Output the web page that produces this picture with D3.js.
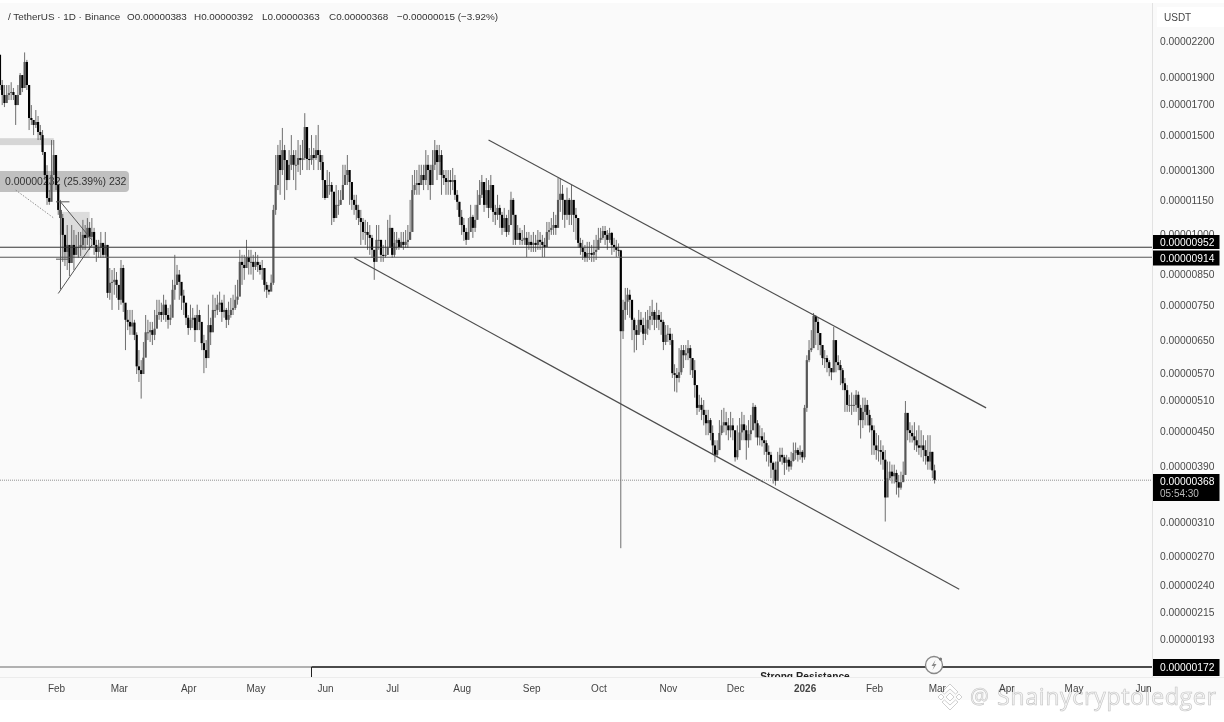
<!DOCTYPE html>
<html>
<head>
<meta charset="utf-8">
<script src="https://cdn.jsdelivr.net/npm/d3@7"></script>
<style>
  html, body { margin: 0; padding: 0; background: #fff; overflow: hidden; }
  svg { display: block; font-family: "Liberation Sans", sans-serif; }
  .soft { filter: blur(0.45px); }
</style>
</head>
<body>
<svg id="chart" width="1224" height="722"></svg>
<script>
// all prices are in units of 0.00000001 USDT, one row per month
const firstDay = "2025-01-07";
const firstOpen = 2080;

const closes = [
  1839,1766,1709,1766,1780,1787,1766,1695,1766,1915,1817,2020,1839,1608,1595,1563,1582,1519,1500,1400,1275,1161,1143,1275,1383,
  1224,1106,1070,999,932,959,891,959,921,951,951,959,999,987,1028,991,1011,959,932,948,967,921,959,789,822,825,832,815,
  767,873,758,707,701,688,699,665,585,576,567,606,672,672,678,665,682,721,730,721,752,721,707,713,799,815,850,825,780,758,713,
  684,707,713,678,721,701,643,625,605,692,672,736,736,752,758,730,736,707,721,736,742,767,777,895,884,873,913,895,895,877,
  895,884,866,873,815,799,793,822,1106,1224,1383,1301,1411,1355,1249,1329,1383,1329,1329,1366,1355,1366,1550,1361,1355,1383,1366,1411,1383,1344,1249,
  1161,1224,1224,1191,1070,1129,1129,1152,1224,1275,1301,1239,1152,1129,1106,1070,1053,1011,1011,999,987,940,895,979,979,921,917,921,948,1028,
  921,967,979,951,971,959,971,979,1011,1199,1224,1234,1224,1275,1249,1329,1301,1224,1329,1411,1344,1383,1275,1259,1239,1249,1239,1249,1176,1143,1075,
  1040,1011,979,1011,1075,1028,1062,1129,1176,1239,1129,1199,1115,1224,1097,1084,1115,1084,1028,1070,1011,1040,1152,1084,979,1007,979,979,987,959,971,
  959,967,959,979,971,959,951,1011,1019,1028,1040,1028,1152,1181,1152,1084,1152,1084,1152,1084,1070,967,948,932,910,928,928,921,932,940,
  979,987,1015,999,979,1007,959,951,940,938,675,736,761,783,767,707,678,665,707,692,668,682,707,718,730,707,721,707,701,646,665,
  668,651,569,565,558,571,625,612,617,630,605,576,542,494,500,490,480,464,470,446,424,408,416,446,460,466,460,451,460,451,
  404,416,447,462,451,433,444,451,496,464,438,440,433,428,413,408,395,384,367,397,408,404,395,400,389,398,411,416,408,413,404,
  494,600,625,630,718,701,670,638,605,605,595,581,571,651,595,588,576,546,531,500,500,500,500,521,494,470,486,500,480,460,451,
  424,416,416,413,400,343,371,381,374,379,365,357,365,376,484,451,446,440,433,424,420,424,416,406,397,413,383,368
];

const highs = [
  2080,1877,1839,1839,1839,1860,1817,1752,1839,1931,1915,2100,2037,1839,1695,1595,1661,1621,1563,1531,1400,1327,1199,1470,1470,
  1383,1219,1152,1088,999,1040,948,1040,1019,999,1011,1011,1062,1040,1070,1053,1070,1028,979,979,1011,959,1011,959,873,866,873,859,
  799,902,884,736,736,736,736,707,672,625,600,646,721,707,701,701,736,767,767,758,783,767,742,752,832,921,884,866,815,799,752,
  721,752,742,721,752,736,692,665,651,752,713,783,773,783,793,767,783,742,761,773,783,815,832,940,921,921,979,940,940,921,
  932,921,895,902,859,825,815,850,1129,1383,1441,1470,1544,1441,1327,1411,1500,1411,1411,1470,1441,1470,1640,1531,1423,1500,1423,1500,1563,1411,1383,
  1224,1301,1291,1239,1141,1224,1199,1199,1329,1329,1383,1301,1224,1176,1176,1129,1106,1070,1062,1053,1040,999,940,1040,1040,979,959,979,1062,1084,
  979,1011,1011,987,1011,1011,1019,1040,1152,1275,1301,1301,1329,1329,1329,1411,1383,1329,1411,1470,1441,1441,1411,1301,1301,1301,1301,1312,1275,1199,1143,
  1106,1070,1028,1070,1129,1084,1129,1199,1249,1275,1224,1259,1249,1275,1176,1129,1176,1129,1097,1115,1084,1106,1191,1161,1040,1040,1028,1019,1040,1011,1011,
  999,1011,999,1019,1011,999,987,1053,1053,1070,1097,1084,1259,1259,1224,1152,1211,1161,1224,1129,1115,1028,987,979,959,971,971,959,979,999,
  1028,1028,1036,1036,1019,1028,1011,987,979,965,940,767,805,805,799,752,713,692,736,730,713,730,736,748,767,736,758,736,730,707,692,
  692,684,668,590,581,630,638,638,638,651,638,605,600,542,521,515,510,490,490,474,460,433,433,470,490,494,486,474,486,474,
  433,460,474,486,480,460,470,480,504,500,470,460,455,447,433,424,413,397,397,413,420,420,408,408,404,413,429,429,420,424,416,
  500,612,651,678,727,721,713,665,638,625,612,600,581,687,625,612,600,581,558,542,521,526,521,531,528,500,515,515,510,490,474,
  460,446,442,433,424,416,397,397,392,392,384,376,381,397,508,480,466,460,466,451,460,451,442,433,442,442,413,392
];

const lows = [
  1802,1695,1681,1730,1730,1730,1730,1563,1695,1802,1787,1839,1802,1531,1563,1500,1544,1470,1470,1383,1249,1129,1129,1249,1275,
  1199,1084,999,895,880,866,845,895,866,921,910,917,940,940,959,940,948,921,895,910,910,910,910,773,767,736,783,773,
  736,752,730,625,678,665,665,651,567,549,513,590,651,651,646,638,651,692,707,701,707,701,682,692,730,767,815,767,736,721,692,
  665,678,684,646,692,678,625,569,581,651,638,713,713,721,730,701,713,684,692,713,721,736,752,799,815,832,873,850,850,832,
  866,859,850,832,793,773,783,799,815,1084,1199,1176,1275,1152,1199,1275,1301,1249,1199,1291,1275,1301,1355,1301,1301,1329,1301,1355,1301,1301,1161,
  1152,1176,1176,1040,1053,1084,1084,1129,1176,1224,1224,1129,1106,1084,1062,1040,959,979,959,940,921,910,832,940,940,895,895,910,921,979,
  910,913,940,940,948,940,948,948,979,1019,1176,1176,1176,1224,1199,1224,1199,1152,1224,1301,1249,1275,1176,1224,1176,1176,1176,1199,1152,1106,1040,
  999,975,959,979,1028,987,1011,1084,1129,1161,1097,1115,1070,1106,1053,1040,1062,1028,999,1011,991,999,1053,959,959,979,959,959,959,913,940,
  932,932,932,940,940,913,913,959,979,999,999,999,1097,1097,1062,1028,1062,1040,1040,1011,979,948,921,902,895,895,902,895,895,902,
  959,967,979,959,940,967,921,932,913,915,279,654,707,721,713,651,619,625,665,672,638,651,665,678,692,678,684,678,665,625,638,
  646,638,558,528,526,548,565,581,600,600,565,558,515,480,486,470,460,442,442,433,408,396,404,424,442,447,442,433,438,433,
  397,400,433,433,433,400,420,433,451,438,424,424,422,408,397,389,371,363,360,371,397,392,376,384,381,384,397,400,397,400,395,
  400,486,595,620,651,638,625,612,588,581,571,562,553,571,571,576,542,531,486,486,486,480,486,486,460,436,455,460,460,447,408,
  408,400,397,392,384,311,354,368,363,363,347,343,354,368,376,433,429,429,416,413,408,404,397,392,384,384,371,363
];

const priceTicks = [2200,1900,1700,1500,1300,1150,1000,850,750,650,570,510,450,390,310,270,240,215,193];
const monthTicks = ["2025-02-01","2025-03-01","2025-04-01","2025-05-01","2025-06-01","2025-07-01","2025-08-01","2025-09-01","2025-10-01","2025-11-01","2025-12-01","2026-01-01","2026-02-01","2026-03-01","2026-04-01","2026-05-01","2026-06-01"];
const monthLabels = ["Feb","Mar","Apr","May","Jun","Jul","Aug","Sep","Oct","Nov","Dec","2026","Feb","Mar","Apr","May","Jun"];

const headerTexts = ["/ TetherUS · 1D · Binance","O0.00000383","H0.00000392","L0.00000363","C0.00000368","−0.00000015 (−3.92%)"];
const headerStarts = [8,127,194,262,329,397];

// hand drawn lines on the chart: [date, price, date, price]
const channelLines = [
  ["2025-08-13",1470,"2026-03-23",494],
  ["2025-06-14",910,"2026-03-11",236]
];
const triangleLines = [
  ["2025-02-03",1143,"2025-02-17",979],
  ["2025-02-02",787,"2025-02-17",959],
  ["2025-02-03",1143,"2025-02-03",800],
  ["2025-02-01",1143,"2025-02-07",1143],
  ["2025-02-01",905,"2025-02-07",905]
];
const dottedLine = [["2025-01-14",1199,"2025-01-31",1070]];
const levelPrices = [952,914];
const lastPrice = 368;
const resistancePrice = 172;
const resistanceStart = "2025-05-26";

const width = 1224, height = 722;
const plotRight = 1152, plotBottom = 677;
const day = 86400000;
const parse = s => new Date(s + "T00:00:00Z");
const fmt = v => (v / 1e8).toFixed(8);

const x = d3.scaleUtc().domain([parse("2025-02-01"), parse("2026-06-01")]).range([56, 1143]);
const y = d3.scaleLog().domain([172, 2200]).range([667, 41]);

const svg = d3.select("#chart");

svg.append("rect").attr("width", width).attr("height", height).attr("fill", "#fff");
svg.append("rect").attr("width", width).attr("y", 3).attr("height", 697).attr("fill", "#fafafa");

const defs = svg.append("defs");
defs.append("clipPath").attr("id", "plotClip")
  .append("rect").attr("width", plotRight).attr("height", plotBottom);

const plot = svg.append("g").attr("clip-path", "url(#plotClip)");
const soft = plot.append("g").attr("class", "soft");

// grey zones behind the candles
soft.append("rect")
  .attr("x", 0).attr("width", x(parse("2025-01-31")))
  .attr("y", y(1481)).attr("height", y(1440) - y(1481))
  .attr("fill", "#d6d6d6");
soft.append("rect")
  .attr("x", x(parse("2025-02-03"))).attr("width", x(parse("2025-02-16")) - x(parse("2025-02-03")))
  .attr("y", y(1097)).attr("height", y(910) - y(1097))
  .attr("fill", "#dcdcdc");

// fib tooltip, the candles run over it
const tip = soft.append("g");
tip.append("rect")
  .attr("x", -8).attr("y", 171).attr("width", 137).attr("height", 21).attr("rx", 4)
  .attr("fill", "#9c9c9c").attr("fill-opacity", 0.62);
tip.append("text")
  .attr("x", 5).attr("y", 185)
  .attr("font-size", 10.5).attr("fill", "#333")
  .text("0.00000232 (25.39%) 232");

const candles = closes.map((c, i) => ({
  date: new Date(parse(firstDay).getTime() + i * day),
  open: i ? closes[i - 1] : firstOpen,
  close: c,
  high: highs[i],
  low: lows[i]
}));

const candleColor = d => d.close >= d.open ? "#575757" : "#000";

soft.append("g").selectAll("line").data(candles).join("line")
  .attr("x1", d => x(d.date)).attr("x2", d => x(d.date))
  .attr("y1", d => y(d.high)).attr("y2", d => y(d.low))
  .attr("stroke", "#4a4a4a").attr("stroke-width", 0.8);

soft.append("g").selectAll("rect").data(candles).join("rect")
  .attr("x", d => x(d.date) - 1.1)
  .attr("width", 2.2)
  .attr("y", d => Math.min(y(d.open), y(d.close)))
  .attr("height", d => Math.max(1, Math.abs(y(d.open) - y(d.close))))
  .attr("fill", candleColor);

function drawSegments(parent, segs, color, w) {
  return parent.append("g").selectAll("line").data(segs).join("line")
    .attr("x1", d => x(parse(d[0]))).attr("y1", d => y(d[1]))
    .attr("x2", d => x(parse(d[2]))).attr("y2", d => y(d[3]))
    .attr("stroke", color).attr("stroke-width", w);
}

drawSegments(soft, triangleLines, "#555", 1);
drawSegments(soft, channelLines, "#4d4d4d", 1.2);
drawSegments(soft, dottedLine, "#777", 0.8).attr("stroke-dasharray", "1.5 1.5");

// horizontal levels
soft.append("g").selectAll("line").data(levelPrices).join("line")
  .attr("x1", 0).attr("x2", plotRight)
  .attr("y1", d => y(d) + 0.5).attr("y2", d => y(d) + 0.5)
  .attr("stroke", (d, i) => i ? "#555" : "#333").attr("stroke-width", 1);

soft.append("line")
  .attr("x1", 0).attr("x2", plotRight)
  .attr("y1", y(lastPrice)).attr("y2", y(lastPrice))
  .attr("stroke", "#777").attr("stroke-width", 0.8).attr("stroke-dasharray", "1 1");

// strong resistance box, mostly below the visible price range
soft.append("line")
  .attr("x1", 0).attr("x2", x(parse(resistanceStart)))
  .attr("y1", y(resistancePrice)).attr("y2", y(resistancePrice))
  .attr("stroke", "#999").attr("stroke-width", 1.6);
soft.append("line")
  .attr("x1", x(parse(resistanceStart))).attr("x2", plotRight)
  .attr("y1", y(resistancePrice)).attr("y2", y(resistancePrice))
  .attr("stroke", "#111").attr("stroke-width", 1.4);
soft.append("line")
  .attr("x1", x(parse(resistanceStart))).attr("x2", x(parse(resistanceStart)))
  .attr("y1", y(resistancePrice)).attr("y2", plotBottom)
  .attr("stroke", "#222").attr("stroke-width", 1);
soft.append("text")
  .attr("x", 805).attr("y", 680)
  .attr("text-anchor", "middle")
  .attr("font-size", 10.2).attr("font-weight", 700).attr("fill", "#222")
  .text("Strong Resistance");

// replay icon on the resistance line
const icon = soft.append("g").attr("transform", "translate(934,665)");
icon.append("circle").attr("r", 8.5).attr("fill", "#fafafa").attr("stroke", "#888").attr("stroke-width", 1.3);
icon.append("path").attr("d", "M1.5,-5 L-2.5,1 L0,1 L-1.5,5 L2.5,-1 L0,-1 Z").attr("fill", "#888");
icon.append("circle").attr("cx", 6.5).attr("cy", -6).attr("r", 1.6).attr("fill", "#777");

// header
svg.append("g").attr("class", "soft").selectAll("text").data(headerTexts).join("text")
  .attr("x", (d, i) => headerStarts[i]).attr("y", 20)
  .attr("font-size", 9.9).attr("fill", "#333")
  .text(d => d);

// price axis
const axisPane = svg.append("g").attr("class", "soft");
axisPane.append("line")
  .attr("x1", plotRight + 0.5).attr("x2", plotRight + 0.5).attr("y1", 3).attr("y2", plotBottom)
  .attr("stroke", "#e2e2e2");
axisPane.append("line")
  .attr("x1", 0).attr("x2", width).attr("y1", plotBottom + 0.5).attr("y2", plotBottom + 0.5)
  .attr("stroke", "#ececec");

const yAxis = d3.axisRight(y)
  .tickValues(priceTicks)
  .tickFormat(fmt)
  .tickSize(0)
  .tickPadding(8);
const yG = axisPane.append("g").attr("transform", `translate(${plotRight},0)`).call(yAxis);
yG.select(".domain").remove();
yG.selectAll("text").attr("font-size", 10.3).attr("font-family", "Liberation Sans").attr("fill", "#4a4a4a");

axisPane.append("rect").attr("x", 1157).attr("y", 7).attr("width", 67).attr("height", 20).attr("fill", "#fff");
axisPane.append("text").attr("x", 1164).attr("y", 21).attr("font-size", 10).attr("fill", "#444").text("USDT");

// black labels on the axis
const priceLabels = [
  { price: 952, top: 235, h: 14 },
  { price: 914, top: 250.5, h: 15 },
  { price: 172, top: 659, h: 17 }
];
const labels = axisPane.append("g").selectAll("g").data(priceLabels).join("g");
labels.append("rect")
  .attr("x", 1153).attr("width", 66.5)
  .attr("y", d => d.top).attr("height", d => d.h)
  .attr("fill", "#000");
labels.append("text")
  .attr("x", 1160).attr("y", d => d.top + d.h / 2 + 3.6)
  .attr("font-size", 10.3).attr("fill", "#fff")
  .text(d => fmt(d.price));

axisPane.append("rect").attr("x", 1153).attr("y", 474).attr("width", 66.5).attr("height", 27).attr("fill", "#000");
axisPane.append("text").attr("x", 1160).attr("y", 485).attr("font-size", 10.3).attr("fill", "#fff").text(fmt(lastPrice));
axisPane.append("text").attr("x", 1160).attr("y", 497).attr("font-size", 10).attr("fill", "#bbb").text("05:54:30");

// watermark, the month labels stay readable on top of it
const mark = svg.append("g").attr("class", "soft");
const logo = mark.append("g").attr("transform", "translate(950,697)")
  .attr("fill", "#fff").attr("stroke", "#cfcfcf").attr("stroke-width", 1);
logo.append("path").attr("d", "M0,-4 L4,0 L0,4 L-4,0 Z");
logo.append("path").attr("d", "M-9,-3 L-6,0 L-9,3 L-12,0 Z");
logo.append("path").attr("d", "M9,-3 L12,0 L9,3 L6,0 Z");
logo.append("path").attr("d", "M0,-13 L8,-5 L5.5,-3 L0,-8 L-5.5,-3 L-8,-5 Z");
logo.append("path").attr("d", "M0,13 L8,5 L5.5,3 L0,8 L-5.5,3 L-8,5 Z");
mark.append("text")
  .attr("x", 970).attr("y", 704)
  .attr("font-size", 21).attr("font-family", "Open Sans")
  .attr("fill", "#f4f4f4").attr("stroke", "#c4c4c4").attr("stroke-width", 0.6)
  .text("@");
mark.append("text")
  .attr("x", 997).attr("y", 705)
  .attr("font-size", 23.5).attr("font-family", "Open Sans")
  .attr("fill", "#f4f4f4").attr("stroke", "#c4c4c4").attr("stroke-width", 0.6)
  .attr("textLength", 219)
  .text("Shainycryptoledger");

// time axis
const xAxis = d3.axisBottom(x)
  .tickValues(monthTicks.map(parse))
  .tickFormat((d, i) => monthLabels[i])
  .tickSize(0)
  .tickPadding(8);
const xG = svg.append("g").attr("class", "soft").attr("transform", `translate(0,${plotBottom})`).call(xAxis);
xG.select(".domain").remove();
xG.selectAll("text")
  .attr("font-size", 10).attr("font-family", "Liberation Sans").attr("fill", "#444")
  .attr("font-weight", (d, i) => monthLabels[i] === "2026" ? 700 : 400);
</script>
</body>
</html>
